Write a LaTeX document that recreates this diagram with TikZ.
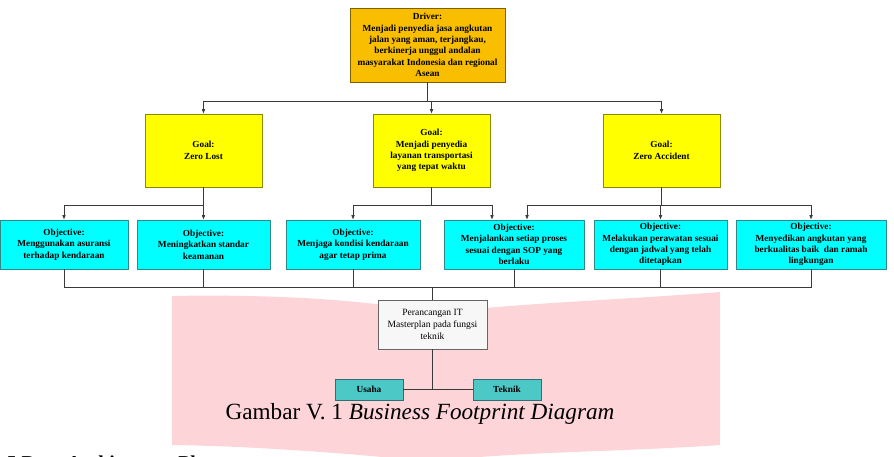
\documentclass[tikz,border=0pt]{standalone}
\usepackage{fontspec}
\setmainfont{Liberation Serif}
\usetikzlibrary{arrows.meta,positioning}

\definecolor{driverfill}{HTML}{F9BE00}
\definecolor{driverline}{HTML}{7F6000}
\definecolor{goalfill}{HTML}{FFFF00}
\definecolor{goalline}{HTML}{8A8A00}
\definecolor{objfill}{HTML}{00FFFF}
\definecolor{objline}{HTML}{2E8A8A}
\definecolor{subfill}{HTML}{4CC8C6}
\definecolor{subline}{HTML}{2F6F6F}
\definecolor{markpink}{HTML}{FDD4D7}
\definecolor{wire}{HTML}{3A3A3A}

\begin{document}
\begin{tikzpicture}[
    x=0.025cm, y=-0.025cm,
    >={Latex[length=3.2pt,width=2.6pt]},
    box/.style={draw, align=center, inner sep=1pt,
        font=\fontsize{6.6}{8.1}\selectfont\bfseries},
    driver/.style={box, fill=driverfill, draw=driverline,
        minimum width=3.875cm, minimum height=1.85cm},
    goal/.style={box, fill=goalfill, draw=goalline,
        minimum width=2.925cm, minimum height=1.825cm},
    objective/.style={box, fill=objfill, draw=objline, minimum height=1.225cm},
    master/.style={box, fill=gray!6, draw=gray!80!black, font=\fontsize{6.8}{8.3}\selectfont,
        minimum width=2.725cm, minimum height=1.225cm},
    part/.style={box, fill=subfill, draw=subline,
        minimum width=1.7cm, minimum height=0.525cm},
    link/.style={draw=wire, line width=0.5pt},
    flow/.style={link, ->}
]

% Frame
\useasboundingbox (0,0) rectangle (894,456);
\clip (0,0) rectangle (894,456);

% Watermark behind the lower part
\fill[markpink] (172,296) .. controls (270,294) and (380,300) .. (432,314)
    .. controls (500,304) and (620,300) .. (720,292)
    -- (720,445) .. controls (620,452) and (500,452) .. (432,462)
    .. controls (380,456) and (260,446) .. (172,445) -- cycle;

% Driver and goals
\node[driver] (drv) at (427.5,45)
    {Driver:\\Menjadi penyedia jasa angkutan\\jalan yang aman, terjangkau,\\berkinerja unggul andalan\\masyarakat Indonesia dan regional\\Asean};

\node[goal] (g1) at (203.5,150.5) {Goal:\\Zero Lost};
\node[goal] (g2) at (431.5,150.5) {Goal:\\Menjadi penyedia\\layanan transportasi\\yang tepat waktu};
\node[goal] (g3) at (661.5,150.5) {Goal:\\Zero Accident};

% Objectives
\node[objective, minimum width=3.2cm] (o1) at (64,244.5)
    {Objective:\\Menggunakan asuransi\\terhadap kendaraan};
\node[objective, minimum width=3.325cm] (o2) at (203.5,244.5)
    {Objective:\\Meningkatkan standar\\keamanan};
\node[objective, minimum width=3.35cm] (o3) at (353,244.5)
    {Objective:\\Menjaga kondisi kendaraan\\agar tetap prima};
\node[objective, minimum width=3.5cm] (o4) at (514,244.5)
    {Objective:\\Menjalankan setiap proses\\sesuai dengan SOP yang\\berlaku};
\node[objective, minimum width=3.325cm] (o5) at (660.5,244.5)
    {Objective:\\Melakukan perawatan sesuai\\dengan jadwal yang telah\\ditetapkan};
\node[objective, minimum width=3.75cm] (o6) at (811,244.5)
    {Objective:\\Menyedikan angkutan yang\\berkualitas baik\ \ dan ramah\\lingkungan};

% IT masterplan and its parts
\node[master] (it) at (432.5,324.5) {Perancangan IT\\Masterplan pada fungsi\\teknik};
\node[part] (us) at (369,389.5) {Usaha};
\node[part] (tk) at (507,389.5) {Teknik};

% Driver to goals
\draw[flow] (drv.south) -- ++(0,19) -| (g1.north);
\draw[flow] (drv.south) -- ++(0,19) -| (g2.north);
\draw[flow] (drv.south) -- ++(0,19) -| (g3.north);

% Goals to objectives
\draw[flow] (g1.south) -- ++(0,18) -| (o1.north);
\draw[flow] (g1.south) -- ++(0,18) -| (o2.north);
\draw[flow] (g2.south) -- ++(0,18) -| (o3.north);
\draw[flow] (g2.south) -- ++(0,18) -| ([xshift=-0.55cm]o4.north);
\draw[flow] (g3.south) -- ++(0,18) -| ([xshift=0.325cm]o4.north);
\draw[flow] (g3.south) -- ++(0,18) -| (o5.north);
\draw[flow] (g3.south) -- ++(0,18) -| (o6.north);

% Objectives to IT masterplan
\foreach \o in {o1,o2,o3,o4,o5,o6}
    \draw[link] (\o.south) -- ++(0,18) -| (it.north);

% IT masterplan to parts
\draw[link] (it.south) |- (us.east);
\draw[link] (it.south) |- (tk.west);

% Caption
\node[font=\fontsize{16.5}{19}\selectfont, anchor=base] (cap) at (420,419)
    {Gambar V. 1 \textit{Business Footprint Diagram}};
\node[font=\fontsize{14}{16}\selectfont\bfseries, anchor=base west] (next) at (2,469)
    {5 Data Architecture Plan};

\end{tikzpicture}
\end{document}
